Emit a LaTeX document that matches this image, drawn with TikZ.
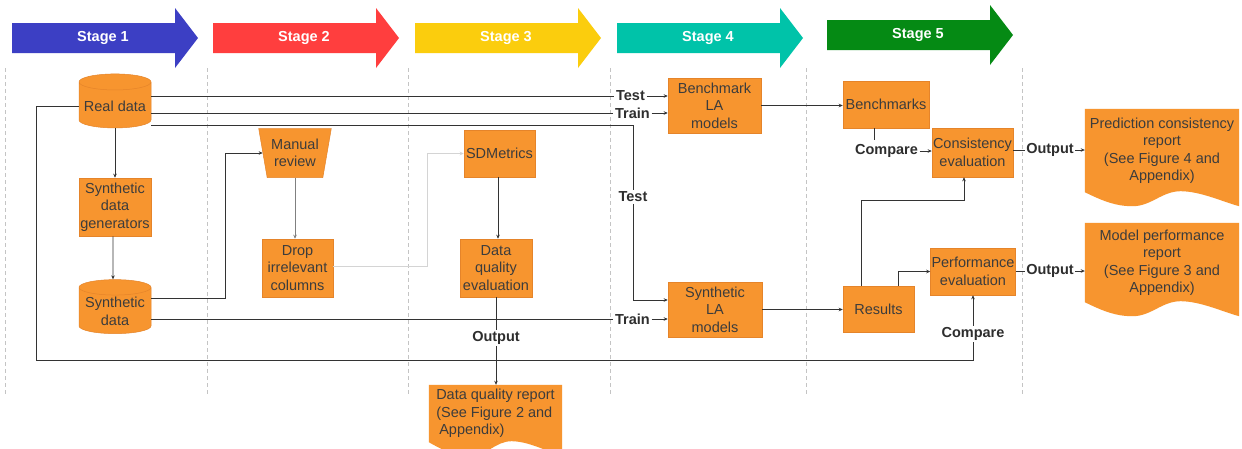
\documentclass[tikz,border=0pt]{standalone}
\usepackage{fontspec}
\setmainfont{Liberation Sans}
\usetikzlibrary{shapes.geometric,arrows.meta,calc,backgrounds}
\definecolor{orng}{HTML}{F7952F}
\definecolor{orngdark}{HTML}{E5842A}
\definecolor{txt}{HTML}{3C3C3C}
\definecolor{lbltxt}{HTML}{2E2E2E}
\definecolor{linec}{HTML}{333333}
\definecolor{lightline}{HTML}{D4D4D4}
\definecolor{sepc}{HTML}{C4C4C4}
\definecolor{s1}{HTML}{3C3FC4}
\definecolor{s2}{HTML}{FF3E3E}
\definecolor{s3}{HTML}{FBCD0D}
\definecolor{s4}{HTML}{00C3A9}
\definecolor{s5}{HTML}{058A14}
\newcommand\dgfont{\fontsize{14.5}{17.5}\selectfont}
\tikzset{
  box/.style={rectangle, fill=orng, draw=orngdark, line width=0.5pt, text=txt, align=center, inner sep=1pt, font=\dgfont},
  cyl/.style={cylinder, shape border rotate=90, aspect=0.25, fill=orng, draw=orngdark, line width=0.5pt, text=txt, align=center, inner sep=1pt, font=\dgfont},
  docnode/.style={rectangle, text=txt, align=center, inner sep=1pt, font=\dgfont},
  lbl/.style={font=\bfseries\dgfont, text=lbltxt, inner sep=1.5pt},
  stagetxt/.style={font=\bfseries\dgfont, text=white, inner sep=0pt},
  conn/.style={draw=linec, line width=0.9pt},
  arr/.style={conn, -{Stealth[length=4pt,width=3.5pt]}},
  sepline/.style={draw=sepc, dash pattern=on 4pt off 3pt, line width=0.7pt},
}
\newcommand\docshape[1]{%
  \fill[orng] (#1.north west) -- (#1.south west)
   .. controls ($(#1.south west)!0.12!(#1.south east)+(0,9)$) and ($(#1.south west)!0.2!(#1.south east)+(0,14)$) .. ($(#1.south west)!0.31!(#1.south east)+(0,14)$)
   .. controls ($(#1.south west)!0.43!(#1.south east)+(0,14)$) and ($(#1.south west)!0.5!(#1.south east)+(0,-1)$) .. ($(#1.south west)!0.62!(#1.south east)+(0,-1)$)
   .. controls ($(#1.south west)!0.75!(#1.south east)+(0,-1)$) and ($(#1.south west)!0.9!(#1.south east)+(0,10)$) .. ($(#1.south east)+(0,14)$)
   -- (#1.north east) -- cycle;}
\newcommand\stagearrow[5]{%
  \fill[#4] (#2,#3-15) -- (#2+163,#3-15) -- (#2+163,#3-30) -- (#2+186,#3) -- (#2+163,#3+30) -- (#2+163,#3+15) -- (#2,#3+15) -- cycle;
  \node[stagetxt] (#1) at (#2+91,#3) {#5};}
\begin{document}
\begin{tikzpicture}[x=1pt,y=-1pt]
\useasboundingbox (0,0) rectangle (1242,448);
\clip (0,0) rectangle (1242,448);
\begin{scope}[on background layer]
\fill[white] (0,0) rectangle (1242,448);
\end{scope}

% stage arrows
\stagearrow{st1}{12}{38}{s1}{Stage 1}
\stagearrow{st2}{213}{38}{s2}{Stage 2}
\stagearrow{st3}{415}{38}{s3}{Stage 3}
\stagearrow{st4}{617}{38}{s4}{Stage 4}
\stagearrow{st5}{827}{35}{s5}{Stage 5}

% separators
\foreach \xx in {5,207,408,610,806,1022} {\draw[sepline] (\xx,68) -- (\xx,396);}

% nodes
\node[cyl, minimum width=72, minimum height=54] (rd) at (115,106) {Real data};
\node[box, minimum width=72, minimum height=58] (sdg) at (115,207) {Synthetic\\data\\generators};
\node[cyl, minimum width=72, minimum height=54] (sd) at (115,311.5) {Synthetic\\data};
\node[trapezium, shape border rotate=180, trapezium stretches=true, trapezium left angle=76, trapezium right angle=76, fill=orng, draw=orngdark, line width=0.5pt, text=txt, align=center, inner sep=1pt, font=\dgfont, minimum width=73, minimum height=49] (mr) at (295,153) {Manual\\review};
\node[box, minimum width=71, minimum height=58] (dic) at (297.5,268) {Drop\\irrelevant\\columns};
\node[box, minimum width=71, minimum height=47] (sdm) at (499.5,153.5) {SDMetrics};
\node[box, minimum width=72, minimum height=58] (dqe) at (496,268) {Data\\quality\\evaluation};
\node[docnode, minimum width=133, minimum height=57, align=left] (dqr) at (495.5,413.5) {Data quality report\\(See Figure 2 and\\\hspace{3pt}Appendix)};
\node[box, minimum width=93, minimum height=55] (bla) at (714.5,105.5) {Benchmark\\LA\\models};
\node[box, minimum width=94, minimum height=55] (sla) at (715,309.5) {Synthetic\\LA\\models};
\node[box, minimum width=86, minimum height=47] (bm) at (886,104.5) {Benchmarks};
\node[box, minimum width=81, minimum height=49] (ce) at (972.5,152.5) {Consistency\\evaluation};
\node[box, minimum width=71, minimum height=46] (res) at (878.5,309) {Results};
\node[box, minimum width=82, minimum height=47] (pe) at (973,271.5) {Performance\\evaluation};
\node[docnode, minimum width=154, minimum height=83] (pcr) at (1162,150.5) {Prediction consistency\\report\\(See Figure 4 and\\Appendix)};
\node[docnode, minimum width=154, minimum height=79] (mpr) at (1162,262.5) {Model performance\\report\\(See Figure 3 and\\Appendix)};
\begin{scope}[on background layer]
\docshape{dqr}
\docshape{pcr}
\docshape{mpr}
\end{scope}

% labels
\node[lbl] (lt1) at (630.5,96) {Test};
\node[lbl] (ltr1) at (632.5,113) {Train};
\node[lbl] (lt2) at (633,197) {Test};
\node[lbl] (ltr2) at (632.5,319) {Train};
\node[lbl] (lout1) at (496,338) {Output};
\node[lbl] (lc1) at (886.5,151) {Compare};
\node[lbl] (lo2) at (1050,150) {Output};
\node[lbl] (lo3) at (1050,271) {Output};
\node[lbl] (lc2) at (973,334) {Compare};

\coordinate (k1) at (225,0);
\coordinate (k2) at (427,0);
\coordinate (k3) at (633,125);
\coordinate (k4) at (36,360);

% connectors
\draw[conn] (rd.east |- lt1) -- (lt1.west);
\draw[arr] (lt1.east) -- (bla.west |- lt1);
\draw[conn] (rd.east |- ltr1) -- (ltr1.west);
\draw[arr] (ltr1.east) -- (bla.west |- ltr1);
\draw[conn] (rd.east |- k3) -- (k3) -- (lt2.north);
\draw[arr] (lt2.south) |- ($(sla.west)+(0,-9.5)$);
\draw[conn] (rd.west) -- (rd.west -| k4) -- (k4) -- (k4 -| lc2) -- (lc2.south);
\draw[arr] (lc2.north) -- (pe.south -| lc2);
\draw[arr] (rd.south) -- (sdg.north);
\draw[arr] ($(sdg.south)+(-2,0)$) -- ($(sd.north)+(-2,0)$);
\draw[arr] ($(sd.east)+(0,-13.5)$) -| (k1 |- mr.west) -- (mr.west);
\draw[conn] (sd.east |- ltr2) -- (ltr2.west);
\draw[arr] (ltr2.east) -- (sla.west |- ltr2);
\draw[arr, draw=gray] (mr.south) -- (mr.south |- dic.north);
\draw[arr, draw=lightline] ($(dic.east)+(0,-2)$) -| (k2 |- sdm.west) -- (sdm.west);
\draw[arr] ($(sdm.south)+(-1.5,0)$) -- ($(sdm.south |- dqe.north)+(-1.5,0)$);
\draw[conn] (dqe.south) -- (lout1.north);
\draw[arr] (lout1.south) -- (lout1.south |- dqr.north);
\draw[arr] (bla.east) -- (bm.west |- bla.east);
\draw[arr] (sla.east) -- (res.west |- sla.east);
\draw[conn] ($(bm.south)+(-12,0)$) -- ($(bm.south)+(-12,12)$);
\draw[arr] (lc1.east) -- (ce.west |- lc1);
\draw[arr] ($(res.north)+(-17.5,0)$) -- ++(0,-85) -| ($(ce.south)+(-8.5,0)$);
\draw[arr] ($(res.north)+(19.5,0)$) |- (pe.west);
\draw[conn] (ce.east |- lo2) -- (lo2.west);
\draw[arr] (lo2.east) -- (pcr.west |- lo2);
\draw[conn] (pe.east |- lo3) -- (lo3.west);
\draw[arr] (lo3.east) -- (mpr.west |- lo3);
\end{tikzpicture}
\end{document}
